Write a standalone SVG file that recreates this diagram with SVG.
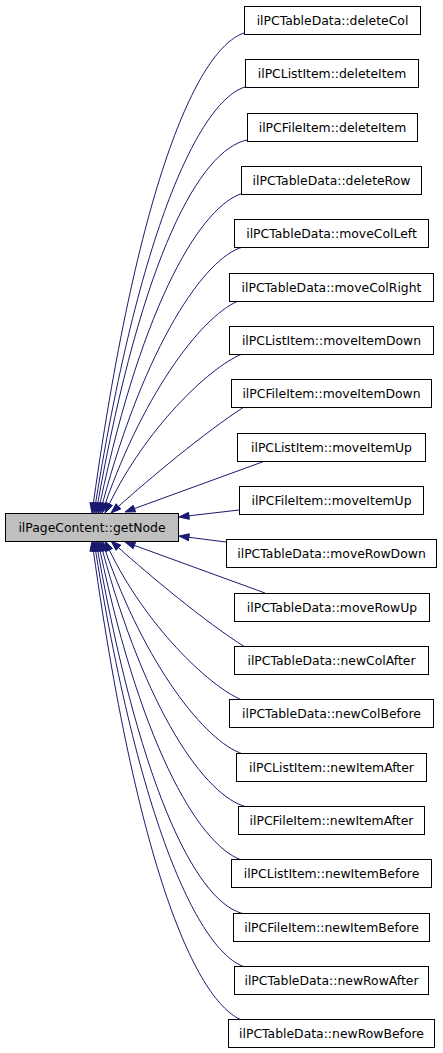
<svg xmlns="http://www.w3.org/2000/svg" width="443" height="1053" viewBox="0 0 443 1053">
<style>
.n rect{fill:#fff;stroke:#000;stroke-width:1}
.m rect{fill:#bfbfbf;stroke:#000;stroke-width:1}
text{font-family:"DejaVu Sans",sans-serif;font-size:12.4px;text-anchor:middle;fill:#000}
.e path{fill:none;stroke:#191970;stroke-width:1}
.e polygon{fill:#191970;stroke:#191970;stroke-width:1}
</style>
<rect width="443" height="1053" fill="#fff"/>
<g class="e" id="edges">
<path d="M244,33 C200,48 140,170 93.39,503.1"/><polygon points="92,513 96.86,503.58 89.92,502.61"/>
<path d="M245,87 C203,100 142,215 95.59,503.13"/><polygon points="94,513 99.05,503.69 92.13,502.57"/>
<path d="M247,140 C200,150 142,255 97.76,503.16"/><polygon points="96,513 101.2,503.77 94.31,502.54"/>
<path d="M244,193 C203,203 143,300 100.07,503.22"/><polygon points="98,513 103.49,503.94 96.64,502.49"/>
<path d="M243,247 C205,257 145,345 102.59,503.34"/><polygon points="100,513 105.97,504.25 99.21,502.43"/>
<path d="M241,300 C205,312 145,390 105.3,503.56"/><polygon points="102,513 108.6,504.72 102,502.41"/>
<path d="M242,354 C208,368 145,430 109.34,503.99"/><polygon points="105,513 112.49,505.51 106.19,502.47"/>
<path d="M244,407 C205,432 148,480 118.46,506.35"/><polygon points="111,513 120.79,508.96 116.13,503.74"/>
<path d="M265,461 L134.4,508.58"/><polygon points="125,512 135.6,511.87 133.2,505.29"/>
<path d="M239,510 L188.93,515.84"/><polygon points="179,517 189.34,519.32 188.53,512.36"/>
<path d="M226,542 L188.92,537.27"/><polygon points="179,536 188.48,540.74 189.36,533.8"/>
<path d="M265,593 L134.4,545.42"/><polygon points="125,542 135.6,542.13 133.2,548.71"/>
<path d="M245,647 C205,622 148,574 118.46,547.65"/><polygon points="111,541 120.79,545.04 116.13,550.26"/>
<path d="M242,700 C208,686 145,624 109.34,550.01"/><polygon points="105,541 112.49,548.49 106.19,551.53"/>
<path d="M243,754 C205,742 145,664 105.3,550.44"/><polygon points="102,541 108.6,549.28 102,551.59"/>
<path d="M247,807 C205,797 145,709 102.59,550.66"/><polygon points="100,541 105.97,549.75 99.21,551.57"/>
<path d="M245,861 C203,851 143,754 100.07,550.78"/><polygon points="98,541 103.49,550.06 96.64,551.51"/>
<path d="M245,914 C200,906 142,799 97.76,550.84"/><polygon points="96,541 101.2,550.23 94.31,551.46"/>
<path d="M245,967 C203,954 142,839 95.59,550.87"/><polygon points="94,541 99.05,550.31 92.13,551.43"/>
<path d="M244,1021 C200,1006 140,884 93.39,550.9"/><polygon points="92,541 96.86,550.42 89.92,551.39"/>
</g>
<g class="m" id="main"><rect x="5.5" y="513.5" width="173" height="28"/><text x="92" y="532">ilPageContent::getNode</text></g>
<g class="n" id="n0"><rect x="244.5" y="6.5" width="176" height="28"/><text x="332.5" y="25">ilPCTableData::deleteCol</text></g>
<g class="n" id="n1"><rect x="245.5" y="59.5" width="173" height="28"/><text x="332" y="78">ilPCListItem::deleteItem</text></g>
<g class="n" id="n2"><rect x="247.5" y="113.5" width="170" height="28"/><text x="332.5" y="132">ilPCFileItem::deleteItem</text></g>
<g class="n" id="n3"><rect x="241.5" y="166.5" width="180" height="28"/><text x="331.5" y="185">ilPCTableData::deleteRow</text></g>
<g class="n" id="n4"><rect x="234.5" y="219.5" width="194" height="28"/><text x="331.5" y="238">ilPCTableData::moveColLeft</text></g>
<g class="n" id="n5"><rect x="229.5" y="273.5" width="204" height="28"/><text x="331.5" y="292">ilPCTableData::moveColRight</text></g>
<g class="n" id="n6"><rect x="229.5" y="326.5" width="204" height="28"/><text x="331.5" y="345">ilPCListItem::moveItemDown</text></g>
<g class="n" id="n7"><rect x="231.5" y="379.5" width="200" height="28"/><text x="331.5" y="398">ilPCFileItem::moveItemDown</text></g>
<g class="n" id="n8"><rect x="237.5" y="433.5" width="188" height="28"/><text x="331.5" y="452">ilPCListItem::moveItemUp</text></g>
<g class="n" id="n9"><rect x="239.5" y="486.5" width="184" height="28"/><text x="331.5" y="505">ilPCFileItem::moveItemUp</text></g>
<g class="n" id="n10"><rect x="226.5" y="539.5" width="210" height="28"/><text x="331.5" y="558">ilPCTableData::moveRowDown</text></g>
<g class="n" id="n11"><rect x="234.5" y="593.5" width="195" height="28"/><text x="332" y="612">ilPCTableData::moveRowUp</text></g>
<g class="n" id="n12"><rect x="234.5" y="646.5" width="194" height="28"/><text x="331.5" y="665">ilPCTableData::newColAfter</text></g>
<g class="n" id="n13"><rect x="229.5" y="699.5" width="204" height="28"/><text x="331.5" y="718">ilPCTableData::newColBefore</text></g>
<g class="n" id="n14"><rect x="236.5" y="753.5" width="190" height="28"/><text x="331.5" y="772">ilPCListItem::newItemAfter</text></g>
<g class="n" id="n15"><rect x="238.5" y="806.5" width="186" height="28"/><text x="331.5" y="825">ilPCFileItem::newItemAfter</text></g>
<g class="n" id="n16"><rect x="231.5" y="859.5" width="200" height="28"/><text x="331.5" y="878">ilPCListItem::newItemBefore</text></g>
<g class="n" id="n17"><rect x="233.5" y="913.5" width="196" height="28"/><text x="331.5" y="932">ilPCFileItem::newItemBefore</text></g>
<g class="n" id="n18"><rect x="234.5" y="966.5" width="194" height="28"/><text x="331.5" y="985">ilPCTableData::newRowAfter</text></g>
<g class="n" id="n19"><rect x="228.5" y="1019.5" width="206" height="28"/><text x="331.5" y="1038">ilPCTableData::newRowBefore</text></g>
</svg>
